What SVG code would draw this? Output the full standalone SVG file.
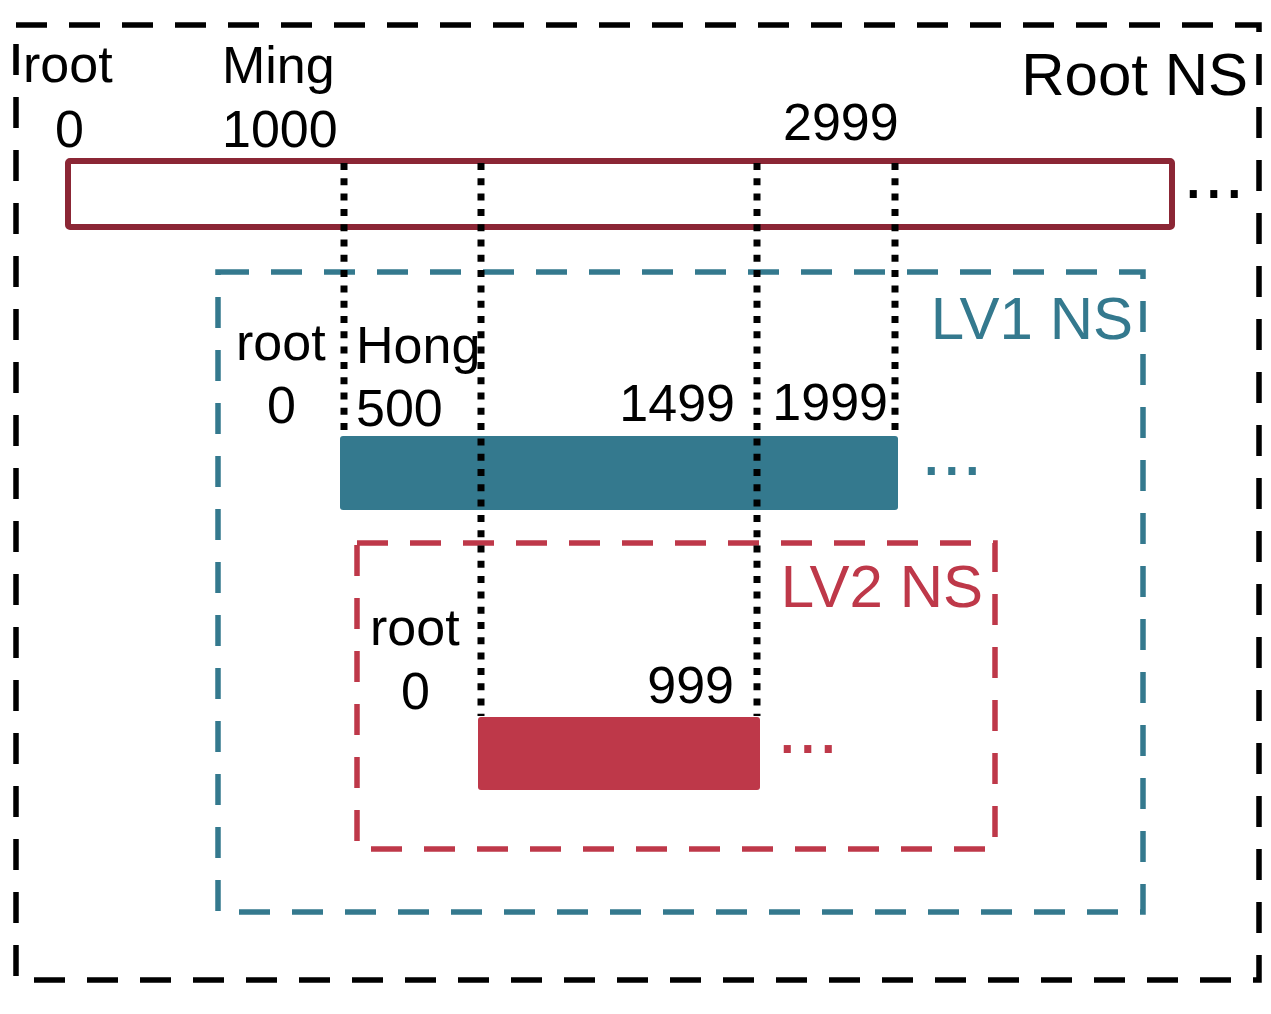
<svg xmlns="http://www.w3.org/2000/svg" width="1271" height="1014" viewBox="0 0 1271 1014">
<style>
text{font-family:"Liberation Sans",Arial,sans-serif;font-size:52px;fill:#000}
.ns{font-size:60px}
.teal{fill:#34798e}
.red{fill:#be3849}
.ell{font-size:74px}
.dash{fill:none;stroke-width:5.5;stroke-dasharray:31 22}
.dot{fill:none;stroke:#000;stroke-width:7;stroke-dasharray:7 8.3}
</style>
<rect width="1271" height="1014" fill="#fff"/>
<g id="root-ns">
<rect x="16" y="25" width="1243" height="955" class="dash" stroke="#000"/>
<text x="1248" y="95" class="ns" text-anchor="end" style="font-size:60px">Root NS</text>
</g>
<g id="root-range">
<rect x="68" y="161" width="1104" height="66" fill="none" stroke="#8b2635" stroke-width="6" rx="2"/>
<text x="23" y="82">root</text>
<text x="55" y="147">0</text>
<text x="222" y="83">Ming</text>
<text x="222" y="147">1000</text>
<text x="783" y="140">2999</text>
<text x="1183" y="198" class="ell">...</text>
</g>
<g id="lv1-ns">
<rect x="218" y="272" width="925" height="640" class="dash" stroke="#34798e"/>
<text x="1133" y="339" class="ns teal" text-anchor="end">LV1 NS</text>
</g>
<g id="lv1-range">
<rect x="340" y="436" width="558" height="74" rx="3" fill="#34798e"/>
<text x="236" y="360">root</text>
<text x="267" y="423">0</text>
<text x="356" y="363">Hong</text>
<text x="356" y="426">500</text>
<text x="735" y="421" text-anchor="end">1499</text>
<text x="888" y="420" text-anchor="end">1999</text>
<text x="921" y="475" class="teal ell">...</text>
</g>
<g id="lv2-ns">
<rect x="357" y="543" width="638" height="306" class="dash" stroke="#be3849"/>
<text x="983" y="607" class="ns red" text-anchor="end">LV2 NS</text>
</g>
<g id="lv2-range">
<rect x="478" y="717" width="282" height="73" rx="3" fill="#be3849"/>
<text x="370" y="645">root</text>
<text x="401" y="709">0</text>
<text x="734" y="703" text-anchor="end">999</text>
<text x="777" y="753" class="red ell">...</text>
</g>
<g id="connectors">
<line x1="344" y1="163" x2="344" y2="435" class="dot"/>
<line x1="481" y1="163" x2="481" y2="716" class="dot"/>
<line x1="757" y1="163" x2="757" y2="716" class="dot"/>
<line x1="895" y1="163" x2="895" y2="435" class="dot"/>
</g>
</svg>
